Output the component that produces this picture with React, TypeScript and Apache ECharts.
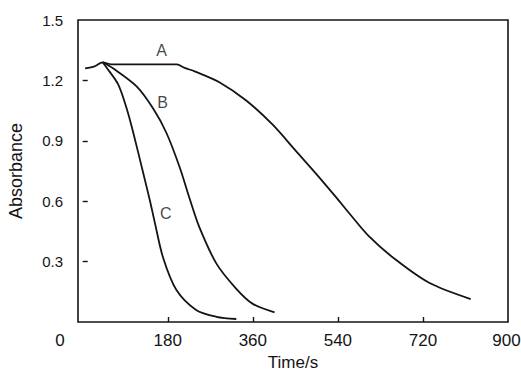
import React, { useEffect, useRef } from "react";
import * as echarts from "echarts";

// Absorbance vs time for three runs (A, B, C)
const timeA = [5, 25, 42, 60, 100, 150, 199, 216, 237, 290, 346, 402, 451, 500, 536, 564, 606, 662, 733, 821];
const absA = [1.26, 1.27, 1.29, 1.28, 1.28, 1.28, 1.28, 1.262, 1.245, 1.19, 1.1, 0.98, 0.85, 0.72, 0.62, 0.54, 0.425, 0.31, 0.195, 0.114];

const timeB = [42, 64, 114, 149, 177, 205, 226, 247, 283, 325, 360, 406];
const absB = [1.29, 1.26, 1.17, 1.06, 0.94, 0.77, 0.615, 0.47, 0.29, 0.165, 0.09, 0.048];

const timeC = [42, 50, 75, 93, 107, 128, 142, 152, 170, 198, 240, 283, 325];
const absC = [1.29, 1.265, 1.18, 1.06, 0.94, 0.74, 0.605, 0.5, 0.32, 0.16, 0.06, 0.026, 0.015];

const xTickValues = [180, 360, 540, 720];
const xLabelValues = [180, 360, 540, 720, 900];
const yTickValues = [0.3, 0.6, 0.9, 1.2];

// curve name and where its letter sits (time, absorbance)
const curveLabels: [string, number, number][] = [
  ["A", 167, 1.35],
  ["B", 169, 1.09],
  ["C", 176, 0.54],
];

const INK = "#141414";
const FONT = "Liberation Sans";

function pairs(t: number[], a: number[]) {
  return t.map((v, i) => [v, a[i]]);
}

export default function App() {
  const ref = useRef<HTMLDivElement>(null);

  useEffect(() => {
    if (!ref.current) return;
    const chart = echarts.init(ref.current, null, { renderer: "svg" });
    const curves = [
      { name: "A", data: pairs(timeA, absA) },
      { name: "B", data: pairs(timeB, absB) },
      { name: "C", data: pairs(timeC, absC) },
    ];
    chart.setOption({
      animation: false,
      backgroundColor: "#ffffff",
      textStyle: { fontFamily: FONT },
      grid: {
        left: 78,
        right: 13,
        top: 20,
        bottom: 52,
        show: true,
        borderColor: INK,
        borderWidth: 1.6,
        outerBoundsMode: "none",
      },
      xAxis: {
        type: "value",
        min: -10,
        max: 900,
        name: "Time/s",
        nameLocation: "middle",
        nameGap: 23,
        nameTextStyle: { color: INK, fontSize: 17, fontFamily: FONT },
        axisLine: { show: false },
        splitLine: { show: false },
        axisTick: {
          show: true,
          inside: true,
          length: 5,
          customValues: xTickValues,
          lineStyle: { color: INK, width: 1.4 },
        },
        axisLabel: {
          customValues: xLabelValues,
          margin: 10,
          color: INK,
          fontSize: 17,
          fontFamily: FONT,
          // the last label hugs the right edge
          formatter: (v: number) => (v === 900 ? `{edge|${v}}` : String(v)),
          rich: {
            edge: { color: INK, fontSize: 17, fontFamily: FONT, padding: [0, 3, 0, 0] },
          },
        },
      },
      yAxis: {
        type: "value",
        min: 0,
        max: 1.5,
        interval: 0.3,
        name: "Absorbance",
        nameLocation: "middle",
        nameRotate: 90,
        nameGap: 53,
        nameTextStyle: { color: INK, fontSize: 18, fontFamily: FONT },
        axisLine: { show: false },
        splitLine: { show: false },
        axisTick: {
          show: true,
          inside: true,
          length: 5,
          customValues: yTickValues,
          lineStyle: { color: INK, width: 1.4 },
        },
        axisLabel: {
          showMinLabel: false,
          margin: 15,
          color: INK,
          fontSize: 15,
          fontFamily: FONT,
          formatter: (v: number) => v.toFixed(1),
        },
      },
      graphic: [
        {
          type: "text",
          x: 60,
          y: 340,
          style: {
            text: "0",
            fill: INK,
            font: `17px "${FONT}"`,
            align: "center",
            verticalAlign: "middle",
          },
        },
      ],
      series: [
        ...curves.map((c) => ({
          type: "line",
          name: c.name,
          data: c.data,
          smooth: 0.3,
          showSymbol: false,
          lineStyle: { color: INK, width: 1.8 },
          z: 3,
        })),
        {
          type: "scatter",
          data: curveLabels.map(([n, t, a]) => ({ name: n, value: [t, a] })),
          symbolSize: 0,
          label: {
            show: true,
            position: "inside",
            formatter: (p: any) => p.name,
            color: INK,
            fontSize: 16,
            fontFamily: FONT,
          },
          z: 4,
        },
      ],
    });
    return () => chart.dispose();
  }, []);

  return <div ref={ref} style={{ width: 521, height: 374, position: "absolute", left: 0, top: 0 }} />;
}
